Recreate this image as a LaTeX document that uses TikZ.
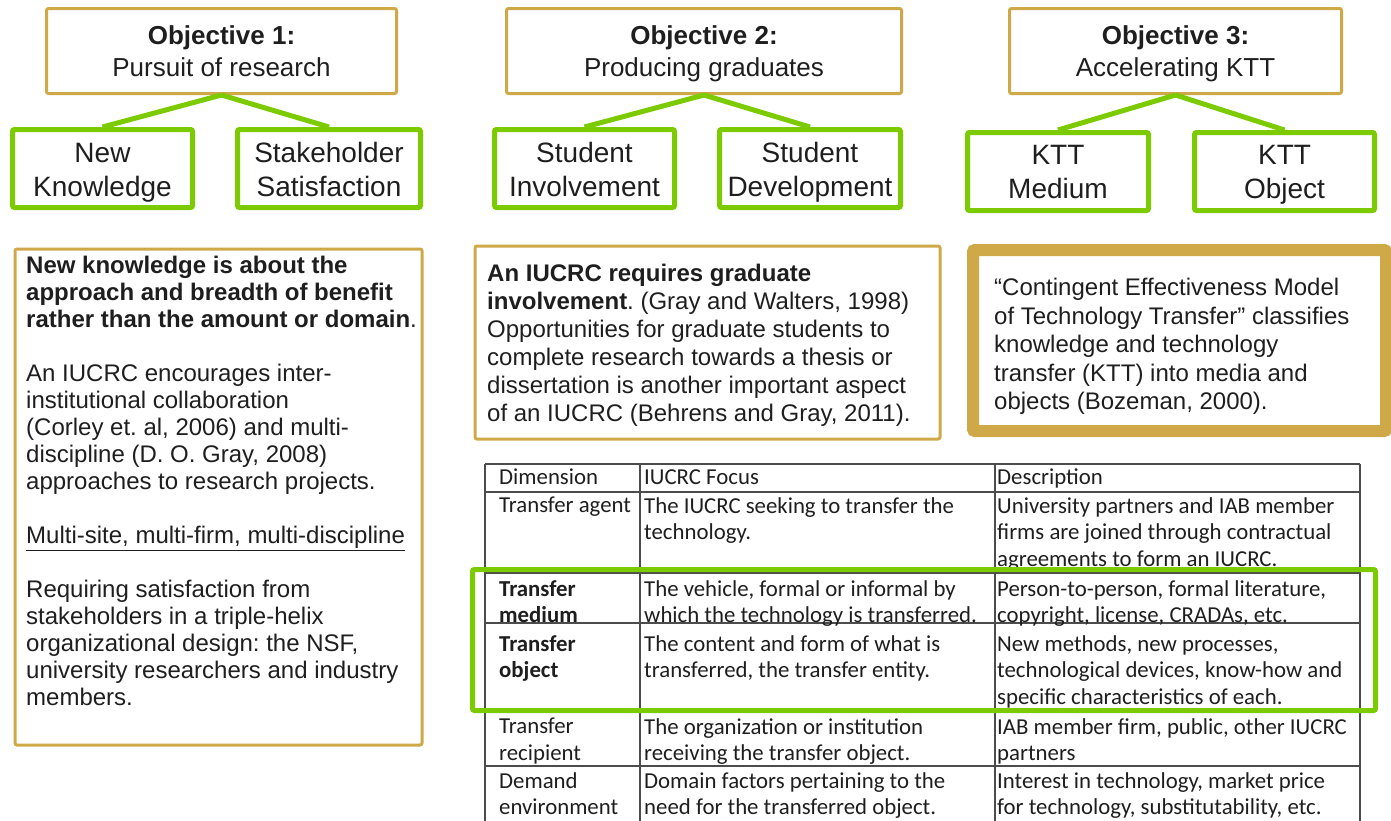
\documentclass[tikz,border=0pt]{standalone}
\usepackage{fontspec}
\setmainfont{Liberation Sans}
\newfontfamily\calibri{Carlito}
\definecolor{gold}{RGB}{207,168,72}
\definecolor{lime}{RGB}{124,202,0}
\definecolor{ink}{RGB}{30,30,30}
% two centred lines, lowered by #1
\newcommand\stacked[3][0pt]{\raisebox{-#1}[\height][\depth]{\begin{tabular}{@{}c@{}}#2\\#3\end{tabular}}}
\frenchspacing
\begin{document}
\begin{tikzpicture}[x=1pt,y=-1pt,
  objective/.style={draw=gold,line width=3pt,rounded corners=2pt,minimum width=#1,minimum height=85pt,inner ysep=0pt,text=ink,font=\fontsize{26}{32}\selectfont},
  criterion/.style={draw=lime,line width=5pt,rounded corners=2pt,minimum width=#1,minimum height=78pt,inner ysep=0pt,text=ink,font=\fontsize{28}{34}\selectfont},
  link/.style={draw=lime,line width=5pt},
  panel/.style={draw=gold,line width=3pt,rounded corners=2pt,anchor=north west,inner sep=0pt},
  bodytext/.style={anchor=north west,align=left,inner sep=0pt,text=ink},
  cell/.style={anchor=north west,align=left,inner sep=0pt,text=ink,font=\calibri\fontsize{22.8}{26.7}\selectfont},
  tablerule/.style={draw=black!70,line width=1.3pt}]
\useasboundingbox (0,0) rectangle (1391,820);

% objectives
\node[objective=350pt] (obj1) at (221.5,51) {\stacked[3pt]{\textbf{Objective 1:}}{Pursuit of research}};
\node[objective=395pt] (obj2) at (704,51) {\stacked[3pt]{\textbf{Objective 2:}}{Producing graduates}};
\node[objective=332pt] (obj3) at (1175.5,51) {\stacked[3pt]{\textbf{Objective 3:}}{Accelerating KTT}};

% criteria
\node[criterion=180pt] (newKnow) at (102.5,168.5) {\stacked[4.5pt]{New}{Knowledge}};
\node[criterion=183pt] (stakeSat) at (329,168.5) {\stacked[4.5pt]{Stakeholder}{Satisfaction}};
\node[criterion=180pt] (studInv) at (584.5,168.5) {\stacked[4.5pt]{Student}{Involvement}};
\node[criterion=181pt] (studDev) at (810,168.5) {\stacked[4.5pt]{Student}{Development}};
\node[criterion=181pt] (kttMedium) at (1058,171.5) {\stacked[3.5pt]{KTT}{Medium}};
\node[criterion=180pt] (kttObject) at (1284.5,171.5) {\stacked[3.5pt]{KTT}{Object}};

\draw[link] (obj1.south) -- (newKnow.north);
\draw[link] (obj1.south) -- (stakeSat.north);
\draw[link] (obj2.south) -- (studInv.north);
\draw[link] (obj2.south) -- (studDev.north);
\draw[link] (obj3.south) -- (kttMedium.north);
\draw[link] (obj3.south) -- (kttObject.north);

% text panels
\node[panel,minimum width=407pt,minimum height=496pt] (knowPanel) at (13.5,247.5) {};
\node[panel,minimum width=465pt,minimum height=193pt] (gradPanel) at (473.5,244.5) {};
\node[panel,line width=12pt,minimum width=413pt,minimum height=181pt] (kttPanel) at (967,244) {};

\node[bodytext,font=\fontsize{24}{27}\selectfont] (knowText) at (26,256)
  {\textbf{New knowledge is about the}\\
   \textbf{approach and breadth of benefit}\\
   \textbf{rather than the amount or domain}.\\[27pt]
   An IUCRC encourages inter-\\
   institutional collaboration\\
   (Corley et. al, 2006) and multi-\\
   discipline (D. O. Gray, 2008)\\
   approaches to research projects.\\[27pt]
   \underline{Multi-site, multi-firm, multi-discipline}\\[27pt]
   Requiring satisfaction from\\
   stakeholders in a triple-helix\\
   organizational design: the NSF,\\
   university researchers and industry\\
   members.};
\node[bodytext,font=\fontsize{24}{28}\selectfont] (gradText) at (487,263.5)
  {\textbf{An IUCRC requires graduate}\\
   \textbf{involvement}. (Gray and Walters, 1998)\\
   Opportunities for graduate students to\\
   complete research towards a thesis or\\
   dissertation is another important aspect\\
   of an IUCRC (Behrens and Gray, 2011).};
\node[bodytext,font=\fontsize{24}{28.5}\selectfont] (kttText) at (994,278)
  {“Contingent Effectiveness Model\\
   of Technology Transfer” classifies\\
   knowledge and technology\\
   transfer (KTT) into media and\\
   objects (Bozeman, 2000).};

% table
\foreach \y in {464,492,573,623,709,766}
  \draw[tablerule] (485,\y) -- (1360,\y);
\foreach \x in {485,640,995,1360}
  \draw[tablerule] (\x,464) -- (\x,822);

\node[cell] (dimHead) at (499,469) {Dimension};
\node[cell] (focusHead) at (644,469) {IUCRC Focus};
\node[cell] (descHead) at (997,469) {Description};
\node[cell] (dimAgent) at (499,497) {Transfer agent};
\node[cell] (focusAgent) at (644,497) {The IUCRC seeking to transfer the\\technology.};
\node[cell] (descAgent) at (997,497) {University partners and IAB member\\firms are joined through contractual\\agreements to form an IUCRC.};
\node[cell] (dimMedium) at (499,580) {\textbf{Transfer}\\\textbf{medium}};
\node[cell] (focusMedium) at (644,580) {The vehicle, formal or informal by\\which the technology is transferred.};
\node[cell] (descMedium) at (997,580) {Person-to-person, formal literature,\\copyright, license, CRADAs, etc.};
\node[cell] (dimObject) at (499,635) {\textbf{Transfer}\\\textbf{object}};
\node[cell] (focusObject) at (644,635) {The content and form of what is\\transferred, the transfer entity.};
\node[cell] (descObject) at (997,635) {New methods, new processes,\\technological devices, know-how and\\specific characteristics of each.};
\node[cell] (dimRecip) at (499,718) {Transfer\\recipient};
\node[cell] (focusRecip) at (644,718) {The organization or institution\\receiving the transfer object.};
\node[cell] (descRecip) at (997,718) {IAB member firm, public, other IUCRC\\partners};
\node[cell] (dimDemand) at (499,772) {Demand\\environment};
\node[cell] (focusDemand) at (644,772) {Domain factors pertaining to the\\need for the transferred object.};
\node[cell] (descDemand) at (997,772) {Interest in technology, market price\\for technology, substitutability, etc.};

% highlight of medium and object rows
\draw[link,rounded corners=2pt] (472.5,569.5) rectangle (1375.5,710.5);
\end{tikzpicture}
\end{document}
